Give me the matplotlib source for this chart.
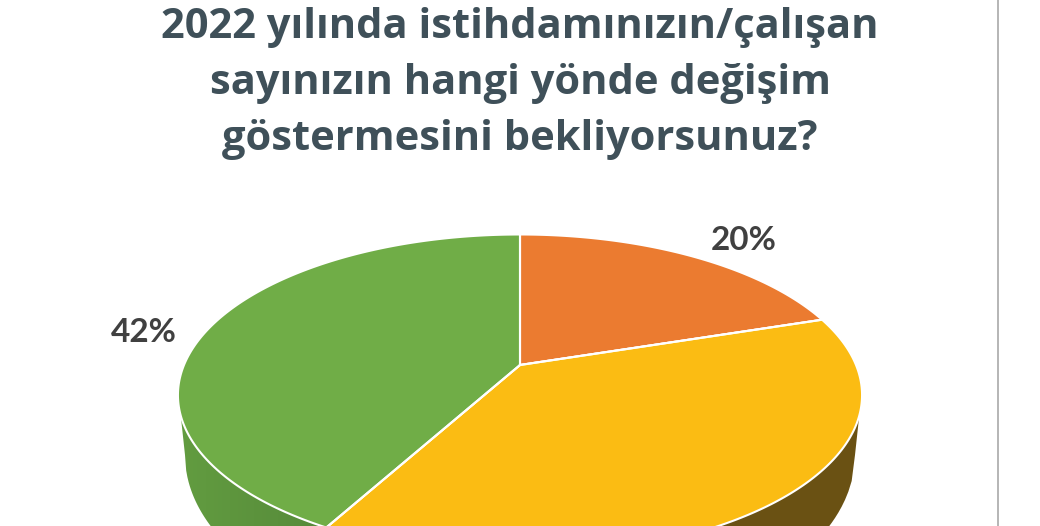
import numpy as np
import matplotlib
matplotlib.use("Agg")
import matplotlib.pyplot as plt
from matplotlib.patches import Polygon

title_lines = ["2022 yılında istihdamınızın/çalışan",
               "sayınızın hangi yönde değişim",
               "göstermesini bekliyorsunuz?"]
slice_names = ["orange", "yellow", "green"]
shares = [20, 38, 42]
share_labels = ["20%", None, "42%"]
slice_colors = ["#EB7B30", "#FBBC13", "#70AD47"]

APEX = (520.0, 365.0)
K = 0.1875
A = 336.0
B = 155.0

def project(frac):
    """Pie fraction (clockwise from the top) to screen pixels, with perspective."""
    th = 2 * np.pi * np.asarray(frac, dtype=float)
    u, v = np.sin(th), np.cos(th)
    w = 1 + K * v
    return APEX[0] + A * u / w, APEX[1] - B * v / w

def side_bottom(x):
    return 455 + 185 * np.sqrt(np.clip(1 - ((x - 520) / 335.0) ** 2, 0, 1))

fig = plt.figure(figsize=(10.4, 5.26), dpi=100)
ax = fig.add_axes([0, 0, 1, 1])
ax.set_xlim(0, 1040)
ax.set_ylim(526, 0)
ax.axis("off")

cum = np.cumsum([0] + shares) / sum(shares)
bx, _ = project(cum[2])  # green / yellow boundary on the rim

# side wall
xs_l = np.linspace(185, bx, 120)
left = np.column_stack([xs_l, side_bottom(xs_l)])
green_side = Polygon(np.vstack([[[181, 418]], left, [[bx, 400], [181, 400]]]),
                     closed=True, fc="none", ec="none", zorder=1)
ax.add_patch(green_side)
grad = np.linspace(0, 1, 256).reshape(1, -1)
cmap = matplotlib.colors.LinearSegmentedColormap.from_list("g", ["#629C40", "#568A3A"])
im = ax.imshow(grad, extent=[181, bx, 526, 400], cmap=cmap, aspect="auto", zorder=1)
im.set_clip_path(green_side)
ax.set_xlim(0, 1040)
ax.set_ylim(526, 0)

xs_r = np.linspace(bx, 855, 160)
right = np.column_stack([xs_r, side_bottom(xs_r)])
ax.add_patch(Polygon(np.vstack([[[bx, 400]], right, [[859, 418], [859, 400]]]),
                     closed=True, fc="#6A5113", ec="none", zorder=1))

# top surface
for i, col in enumerate(slice_colors):
    fr = np.linspace(cum[i], cum[i + 1], 200)
    x, y = project(fr)
    pts = np.vstack([[APEX], np.column_stack([x, y])])
    ax.add_patch(Polygon(pts, closed=True, fc=col, ec="white", lw=1.5,
                         joinstyle="round", zorder=2))

# straight spokes on top
for f in cum[:3]:
    px, py = project(f)
    ax.plot([APEX[0], px], [APEX[1], py], color="white", lw=1.5, zorder=4)

# divider line
ax.axvline(998, color="#A9A9A9", lw=1.2, zorder=1)

# title
for line, yy in zip(title_lines, [27, 83, 140]):
    ax.text(520, yy, line, ha="center", va="center", fontsize=30,
            family="Open Sans", weight="bold", color="#3F5059", zorder=5)

# labels
label_pos = [(744, 240), None, (144, 332)]
for lab, pos in zip(share_labels, label_pos):
    if lab:
        ax.text(pos[0], pos[1], lab, ha="center", va="center", fontsize=24,
                family="Lato", weight="bold", color="#404040", zorder=5)

fig.savefig("out.png", dpi=100, facecolor="white")
